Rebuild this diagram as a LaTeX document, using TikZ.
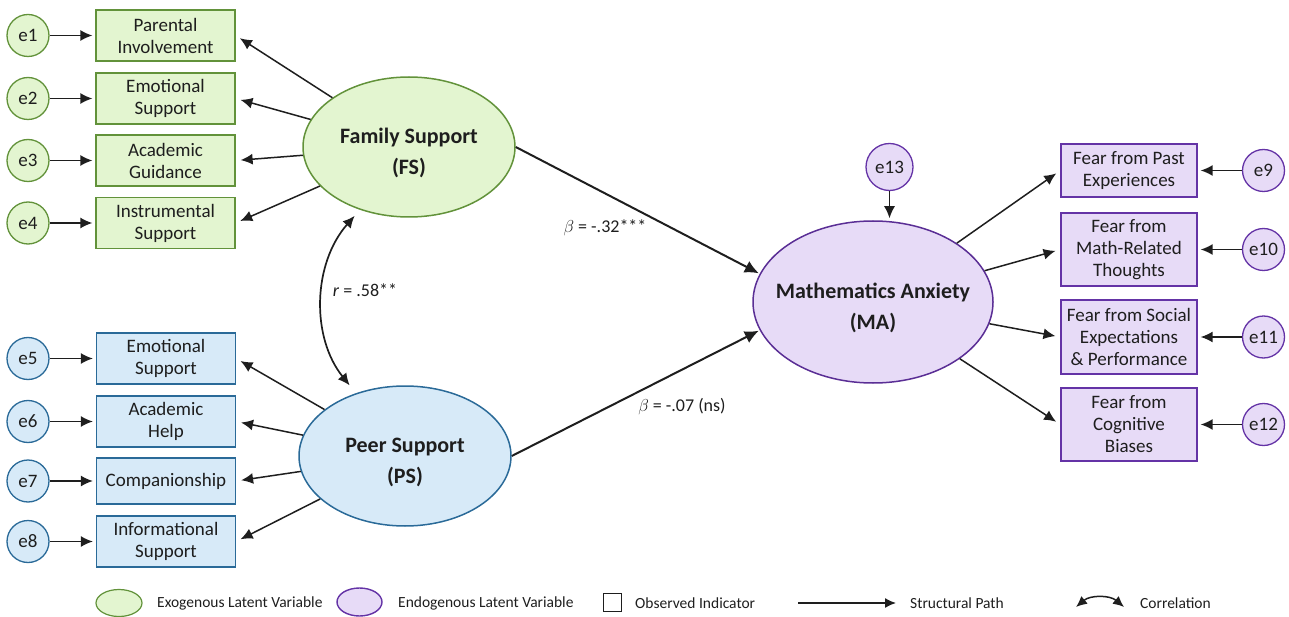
\documentclass[tikz,border=0pt]{standalone}
\usepackage{fontspec}
\setmainfont{Carlito}
\usetikzlibrary{arrows.meta,shapes.geometric}
\definecolor{gfill}{HTML}{E3F5D0}
\definecolor{gline}{HTML}{62923A}
\definecolor{bfill}{HTML}{D7EAF8}
\definecolor{bline}{HTML}{2A6A98}
\definecolor{pfill}{HTML}{E7DBF7}
\definecolor{pline}{HTML}{6433A6}
\definecolor{ink}{HTML}{1E1E1E}
\newcommand\bxfont{\fontsize{19}{22}\selectfont}
\newcommand\lvfont{\fontsize{22}{31}\selectfont\bfseries}
\newcommand\erfont{\fontsize{19}{20}\selectfont}
\newcommand\lbfont{\fontsize{18}{20}\selectfont}
\newcommand\lgfont{\fontsize{15.5}{18}\selectfont}
\newcommand\lvstrut{\rule{0pt}{28pt}}
\tikzset{
  obs/.style={draw=#1line, fill=#1fill, line width=1.3pt, minimum width=139pt, minimum height=51pt, inner sep=0pt, align=center, font=\bxfont, text=ink},
  lat/.style={ellipse, draw=#1line, fill=#1fill, line width=1.5pt, minimum width=212pt, minimum height=140pt, inner xsep=-15pt, inner ysep=0pt, align=center, font=\lvfont, text=ink},
  err/.style={circle, draw=#1line, fill=#1fill, line width=1.3pt, minimum size=42pt, inner sep=0pt, font=\erfont, text=ink},
  arr/.style={-{Latex[length=12pt,width=11pt]}, line width=1.5pt, draw=ink},
  load/.style={arr, shorten >=5pt},
  spath/.style={-{Latex[length=14pt,width=13pt]}, line width=2pt, draw=ink},
  corr/.style={{Latex[length=12pt,width=11pt]}-{Latex[length=12pt,width=11pt]}, line width=1.7pt, draw=ink},
  plabel/.style={font=\lbfont, text=ink},
  legtext/.style={font=\lgfont, text=ink, anchor=west, inner sep=0pt}
}
\begin{document}
\begin{tikzpicture}[x=1pt,y=-1pt]
\useasboundingbox (0,0) rectangle (1289,617);
% latent variables
\node[lat=g] (FS) at (409,147) {\lvstrut Family Support\\(FS)};
\node[lat=b] (PS) at (405,456) {\lvstrut Peer Support\\(PS)};
\node[lat=p, minimum width=240pt, minimum height=162pt, draw=pline!90!black] (MA) at (873,302) {\lvstrut Mathematics Anxiety\\(MA)};
% green indicators
\node[obs=g] (g1) at (165.5,35.5) {Parental\\Involvement};
\node[obs=g] (g2) at (165.5,98.5) {Emotional\\Support};
\node[obs=g] (g3) at (165.5,160.5) {Academic\\Guidance};
\node[obs=g] (g4) at (165.5,223) {Instrumental\\Support};
\node[err=g] (e1) at (28,35.5) {e1};
\node[err=g] (e2) at (28,98.5) {e2};
\node[err=g] (e3) at (28,160.5) {e3};
\node[err=g] (e4) at (28,223) {e4};
% blue indicators
\node[obs=b] (b1) at (166,358.5) {Emotional\\Support};
\node[obs=b] (b2) at (166,421.5) {Academic\\Help};
\node[obs=b, minimum height=46pt] (b3) at (166,481) {Companionship};
\node[obs=b] (b4) at (166,541.5) {Informational\\Support};
\node[err=b] (e5) at (28,358.5) {e5};
\node[err=b] (e6) at (28,421.5) {e6};
\node[err=b] (e7) at (28,481) {e7};
\node[err=b] (e8) at (28,541.5) {e8};
% purple indicators
\node[obs=p, minimum width=136pt, minimum height=53pt] (p1) at (1129,170.5) {Fear from Past\\Experiences};
\node[obs=p, minimum width=136pt, minimum height=73pt] (p2) at (1129,249.5) {Fear from\\Math-Related\\Thoughts};
\node[obs=p, minimum width=136pt, minimum height=74pt] (p3) at (1129,337) {Fear from Social\\Expectations\\\& Performance};
\node[obs=p, minimum width=136pt, minimum height=73pt] (p4) at (1129,424.5) {Fear from\\Cognitive\\Biases};
\node[err=p] (e9) at (1263.5,170.5) {e9};
\node[err=p] (e10) at (1263.5,249.5) {e10};
\node[err=p] (e11) at (1263.5,337) {e11};
\node[err=p] (e12) at (1263.5,424.5) {e12};
\node[err=p, minimum size=47pt] (e13) at (889.5,167) {e13};
% error arrows
\foreach \e/\o in {e1/g1,e2/g2,e3/g3,e4/g4,e5/b1,e6/b2,e7/b3,e8/b4}
  \draw[arr, shorten >=3pt] (\e) -- (\o);
\foreach \e/\o in {e9/p1,e10/p2,e11/p3,e12/p4}
  \draw[arr, shorten >=3pt] (\e) -- (\o);
\draw[arr, shorten >=2pt] (e13) -- (e13 |- MA.north);
% loadings
\foreach \o in {g1,g2,g3,g4} \draw[load] (FS) -- (\o.east);
\foreach \o in {b1,b2,b3,b4} \draw[load] (PS) -- (\o.east);
\foreach \o in {p1,p2,p3,p4} \draw[load] (MA) -- (\o.west);
% structural paths
\draw[spath, shorten >=1pt] (FS.east) -- (MA.166);
\draw[spath, shorten >=1pt] (PS.east) -- (MA.194);
\draw[corr, shorten <=8pt, shorten >=10pt] (FS.232) to[bend right=40] (PS.128);
% labels
\node[plabel] (l1) at (605,228) {$\beta$ = -.32***};
\node[plabel] (l2) at (365,290) {\textit{r} = .58**};
\node[plabel] (l3) at (682,407) {$\beta$ = -.07 (ns)};
% legend
\node[ellipse, draw=gline, fill=gfill, line width=1.2pt, minimum width=46pt, minimum height=27pt, inner sep=0pt] (lg1) at (119,603) {};
\node[legtext] (lt1) at (157,603) {Exogenous Latent Variable};
\node[ellipse, draw=pline, fill=pfill, line width=1.4pt, minimum width=45pt, minimum height=28pt, inner sep=0pt] (lg2) at (359.5,602) {};
\node[legtext] (lt2) at (398,603) {Endogenous Latent Variable};
\node[draw=ink, fill=white, line width=1pt, minimum size=18pt, inner sep=0pt] (lg3) at (612.5,602) {};
\node[legtext] (lt3) at (635,603) {Observed Indicator};
\coordinate (la1) at (798,603);
\coordinate (la2) at (896,603);
\draw[-{Latex[length=11pt,width=10pt]}, line width=1.5pt, draw=ink] (la1) -- (la2);
\node[legtext] (lt4) at (910,603) {Structural Path};
\coordinate (lc1) at (1076,607);
\coordinate (lc2) at (1124,607);
\draw[{Latex[length=11pt,width=10pt]}-{Latex[length=11pt,width=10pt]}, line width=1.5pt, draw=ink] (lc1) to[bend left=40] (lc2);
\node[legtext] (lt5) at (1140,603) {Correlation};
\end{tikzpicture}
\end{document}
